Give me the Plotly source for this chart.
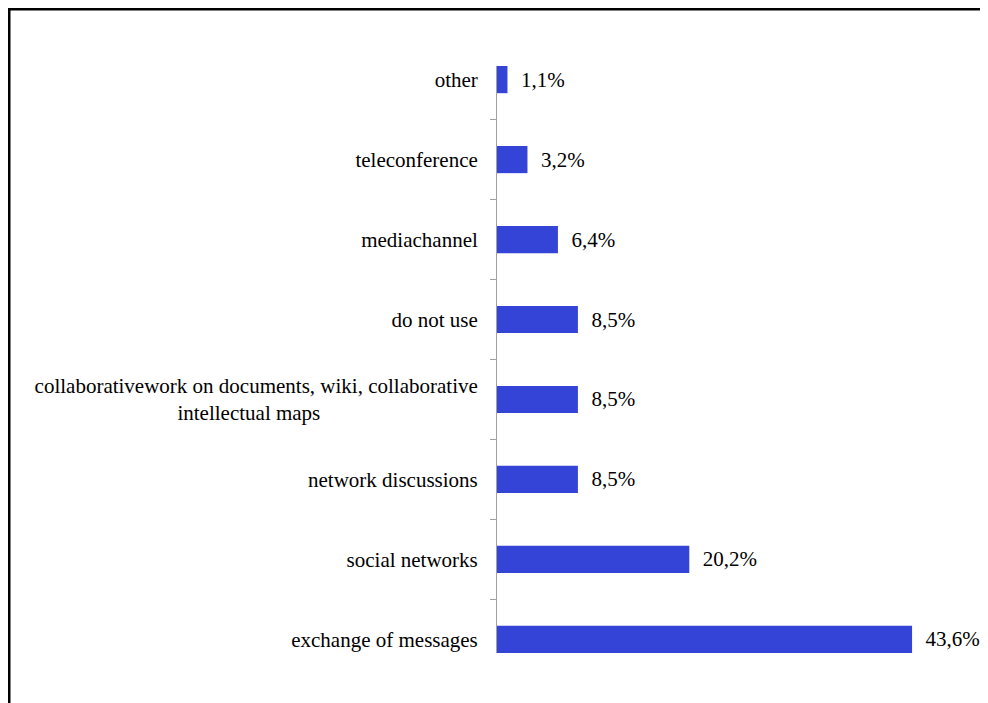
import plotly.graph_objects as go

# Data (bottom to top)
categories = [
    "exchange of messages",
    "social networks",
    "network discussions",
    "collaborativework on documents, wiki, collaborative<br>intellectual maps" + "\u00a0" * 30,
    "do not use",
    "mediachannel",
    "teleconference",
    "other",
]
values = [43.6, 20.2, 8.5, 8.5, 8.5, 6.4, 3.2, 1.1]
value_labels = ["43,6%", "20,2%", "8,5%", "8,5%", "8,5%", "6,4%", "3,2%", "1,1%"]

# page body has an 8px margin; figure is sized/offset accordingly
OFF = 8
W, H = 988 - OFF, 703 - OFF
L, R, T, B = 497 - OFF, 15, 66 - OFF, 50
pw, ph = W - L - R, H - T - B

fig = go.Figure()
fig.add_trace(go.Bar(
    y=categories,
    x=values,
    orientation="h",
    marker=dict(color="#3444D6", line=dict(width=0)),
    text=["\u00a0\u00a0" + t for t in value_labels],
    textposition="outside",
    textfont=dict(family="Liberation Serif", size=21, color="black"),
    cliponaxis=False,
    hoverinfo="skip",
))

bw = 0.34
fig.update_layout(
    width=W, height=H,
    margin=dict(l=L, r=R, t=T, b=B, pad=0),
    paper_bgcolor="white", plot_bgcolor="white",
    showlegend=False,
    bargap=1 - bw,
    font=dict(family="Liberation Serif", size=21, color="black"),
    xaxis=dict(range=[0, 50], visible=False, showgrid=False, zeroline=False),
    yaxis=dict(
        type="category",
        categoryorder="array", categoryarray=categories,
        range=[-bw / 2, len(categories) - 1 + bw / 2],
        showline=True, linecolor="#A0A0A0", linewidth=1,
        ticks="outside", tickson="boundaries", ticklen=6, tickcolor="#A0A0A0",
        ticklabelstandoff=14,
        showgrid=False, zeroline=False,
        tickfont=dict(family="Liberation Serif", size=21, color="black"),
    ),
)

# Frame lines (top and left) in pixel-derived paper coordinates
def px_x(x):
    return (x - L) / pw

def px_y(y):
    return (H - B - y) / ph

fig.add_shape(type="line", xref="paper", yref="paper",
              x0=px_x(-0.5), x1=px_x(W + 5), y0=px_y(1), y1=px_y(1),
              line=dict(color="black", width=3))
fig.add_shape(type="line", xref="paper", yref="paper",
              x0=px_x(1), x1=px_x(1), y0=px_y(-0.5), y1=px_y(H + 5),
              line=dict(color="black", width=3))

fig.write_html("out.html")
